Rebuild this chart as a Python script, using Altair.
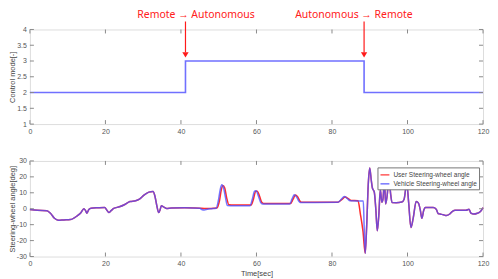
import altair as alt
import pandas as pd

# ---------------- data ----------------
mode_time = [0, 41.2, 88.5, 120]
mode_value = [2, 3, 2, 2]

veh_t = [0, 2, 4.5, 5.5, 6.5, 7.5, 9, 10.7, 12.5, 13.5, 14.3, 14.7, 15.1, 15.6, 16.2, 18, 19.8,
         20.4, 20.9, 21.5, 22.2, 23.7, 25, 26.5, 28, 29, 30.2, 31.5, 32.6, 33.1, 33.6, 34.1, 34.5,
         34.8, 35.5, 36.2, 37.5, 41, 45, 45.5, 46.2, 47, 48, 49.3, 49.9, 50.4, 50.8, 51.3, 51.8,
         52.3, 54, 58.3, 58.9, 59.5, 59.9, 60.5, 61.1, 61.6, 68.8, 69.4, 70, 70.6, 71.3, 71.6,
         81.5, 82.3, 83.3, 84, 84.8, 88.3, 88.5, 88.8, 89.2, 89.6, 90, 90.4, 90.7, 91.2, 91.6, 92,
         92.4, 92.8, 93.2, 93.5, 93.9, 94.2, 94.6, 95.1, 95.5, 95.9, 97, 98.5, 99.1, 99.8, 100.3,
         100.9, 101.5, 102.3, 102.9, 103.4, 103.8, 104.3, 104.7, 106.8, 107.6, 108.1, 108.6,
         109.5, 110.3, 111.2, 112, 112.6, 115.5, 116.3, 116.8, 117.5, 118.5, 119.3, 120]
veh_v = [-0.5, -1, -1.2, -3, -6, -7.2, -7, -6.8, -4.5, -2.5, 0, -1, -2.8, -0.5, 0.3, 0.6, 0.8,
         -1, -2.4, -1.2, 0.2, 1.2, 2.5, 4.5, 5, 6, 8.5, 10.4, 10.8, 8, 2, -2.4, -0.5,
         1.8, 1, 0.2, 0.5, 0.6, 0.3, -0.5, -0.8, -0.3, 0, 0.3, 5, 12, 15, 13, 7,
         2, 1.8, 1.8, 6, 11, 11.3, 8, 4, 3, 3, 6, 8.8, 7.5, 4.5, 3.9,
         4, 5.5, 7.6, 6.5, 5, 4.8, -10, -28, -10, 15, 25.5, 18, 13, 10.5, 0, -13.9,
         -4, 12, 4, 6, 18, 3, 8, 20, 10, 3.9, 3.8, 4.2, 6, 16, 4,
         -11.8, -6, 4.5, 3.5, -1, -6, -1, 0.8, 0.7, -0.3, -3, -3.3,
         -3.8, -4.3, -3.3, -1.5, -1, -1, -0.3, -2.8, -3.3, -2.8, -1.8, 0.7]

# user steering differs from vehicle between 45 s and 88.8 s
usr_mid_t = [45, 46.2, 48, 49.5, 50.2, 50.7, 51.1, 51.6, 52.1, 52.7, 54, 58.6, 59.2, 59.8, 60.2,
             60.8, 61.4, 61.9, 69, 69.7, 70.3, 70.9, 71.6, 72, 81.5, 82.5, 83.5, 84.3, 85,
             86.9, 87.5, 88.2, 88.8]
usr_mid_v = [0.3, 0.2, 0.2, 0.4, 5, 12, 14.6, 13, 7, 2.5, 2.3, 2.3, 6, 11, 11,
             8, 4, 3.3, 3.3, 6, 8.6, 7.5, 4.5, 4, 4.1, 5.5, 7.3, 6.3, 5.2,
             5, -3, -14, -28]

series_names = ["User Steering-wheel angle", "Vehicle Steering-wheel angle"]
series_colors = ["#ff2b2b", "#5050ff"]

x_ticks = [0, 20, 40, 60, 80, 100, 120]
mode_ticks = [1, 1.5, 2, 2.5, 3, 3.5, 4]
steer_ticks = [-30, -20, -10, 0, 10, 20, 30]

annot_text = ["Remote \u2192 Autonomous", "Autonomous \u2192 Remote"]
annot_x = [44, 85.8]
arrow_x = [41.2, 88.5]

# ---------------- frames ----------------
usr_t, usr_v = [], []
for t, v in zip(veh_t, veh_v):
    if t < 45:
        usr_t.append(t); usr_v.append(v)
usr_t += usr_mid_t; usr_v += usr_mid_v
for t, v in zip(veh_t, veh_v):
    if t > 88.8:
        usr_t.append(t); usr_v.append(v)

df_mode = pd.DataFrame({"t": mode_time, "v": mode_value})
df_usr = pd.DataFrame({"t": usr_t, "v": usr_v, "s": series_names[0]})
df_veh = pd.DataFrame({"t": veh_t, "v": veh_v, "s": series_names[1]})
df_xt = pd.DataFrame({"t": x_ticks})
df_mt = pd.DataFrame({"v": mode_ticks})
df_st = pd.DataFrame({"v": steer_ticks})
df_ann = pd.DataFrame({"t": annot_x, "label": annot_text})
df_arr = pd.DataFrame({"t": arrow_x})

W, H1, H2, SP = 455, 95, 96, 37
GRAY = "#8a8a8a"
TL = 4
FONT = "Liberation Sans"

xscale = alt.Scale(domain=[0, 120], nice=False, zero=False)


def xaxis(title=None):
    kw = dict(values=x_ticks, labelExpr="datum.value", tickSize=0, domain=False, grid=False,
              labelFontSize=7, labelColor="#555", labelPadding=3, labelFont=FONT,
              labelOverlap=False, labelFlush=False)
    if title:
        kw.update(title=title, titleFontSize=7.5, titleFontWeight="normal", titleColor="#444",
                  titleFont=FONT, titlePadding=3)
    else:
        kw.update(title=None)
    return alt.Axis(**kw)


def yaxis(vals, title, h):
    return alt.Axis(values=vals, labelExpr="datum.value", tickSize=0, domain=False, grid=False,
                    labelFontSize=7, labelColor="#555", labelPadding=3.5, labelFont=FONT,
                    labelOverlap=False, labelFlush=False,
                    title=title, titleFontSize=7.5, titleFontWeight="normal", titleColor="#444",
                    titleFont=FONT, titleX=-13, titleY=h / 2, titleAngle=270,
                    titleBaseline="bottom", titleAlign="center")


XA_TOP = xaxis()
XA_BOT = xaxis("Time[sec]")
YA_TOP = yaxis(mode_ticks, "Control mode[-]", H1)
YA_BOT = yaxis(steer_ticks, "Steering-wheel angle[deg]", H2)


def tick_layers(df_y, yscale, h, xa, ya):
    bx = alt.Chart(df_xt).mark_rule(color=GRAY, strokeWidth=1).encode(
        x=alt.X("t:Q", scale=xscale, axis=xa), y=alt.value(h - TL), y2=alt.value(h))
    tx = alt.Chart(df_xt).mark_rule(color=GRAY, strokeWidth=1).encode(
        x=alt.X("t:Q", scale=xscale, axis=xa), y=alt.value(0), y2=alt.value(TL))
    ly = alt.Chart(df_y).mark_rule(color=GRAY, strokeWidth=1).encode(
        y=alt.Y("v:Q", scale=yscale, axis=ya), x=alt.value(0), x2=alt.value(TL))
    ry = alt.Chart(df_y).mark_rule(color=GRAY, strokeWidth=1).encode(
        y=alt.Y("v:Q", scale=yscale, axis=ya), x=alt.value(W - TL), x2=alt.value(W))
    return [bx, tx, ly, ry]


# ---------------- top panel ----------------
mscale = alt.Scale(domain=[1, 4], nice=False, zero=False)
mode_line = alt.Chart(df_mode).mark_line(interpolate="step-after", color="#7070ff",
                                         strokeWidth=1.6).encode(
    x=alt.X("t:Q", scale=xscale, axis=XA_TOP),
    y=alt.Y("v:Q", scale=mscale, axis=YA_TOP))

ann_text = alt.Chart(df_ann).mark_text(color="#ff2020", fontSize=10.5, font="Noto Sans",
                                       baseline="alphabetic", align="center").encode(
    x=alt.X("t:Q", scale=xscale, axis=XA_TOP), y=alt.value(-12), text="label:N")
arr_shaft = alt.Chart(df_arr).mark_rule(color="#ff1a1a", strokeWidth=1.2).encode(
    x=alt.X("t:Q", scale=xscale, axis=XA_TOP), y=alt.value(-8), y2=alt.value(23))
arr_head = alt.Chart(df_arr).mark_point(shape="triangle-down", filled=True, size=40,
                                        color="#ff1a1a", opacity=1).encode(
    x=alt.X("t:Q", scale=xscale, axis=XA_TOP), y=alt.value(25.5))

top = alt.layer(mode_line, *tick_layers(df_mt, mscale, H1, XA_TOP, YA_TOP), ann_text,
                arr_shaft, arr_head).properties(width=W, height=H1)

# ---------------- bottom panel ----------------
sscale = alt.Scale(domain=[-30, 30], nice=False, zero=False)
cscale = alt.Scale(domain=series_names, range=series_colors)
legend = alt.Legend(title=None, orient="none", legendX=W - 106, legendY=H1 + SP + 6.5,
                    labelFontSize=6.5, labelFont=FONT, labelColor="#444", symbolType="stroke",
                    symbolSize=80, symbolStrokeWidth=1.5, padding=2, rowPadding=-2,
                    fillColor="white", strokeColor="#777", labelOffset=3, labelLimit=200)

usr_line = alt.Chart(df_usr).mark_line(interpolate="monotone", strokeWidth=1.5).encode(
    x=alt.X("t:Q", scale=xscale, axis=XA_BOT),
    y=alt.Y("v:Q", scale=sscale, axis=YA_BOT),
    color=alt.Color("s:N", scale=cscale, legend=legend))
veh_line = alt.Chart(df_veh).mark_line(interpolate="monotone", strokeWidth=1.5,
                                       opacity=0.78).encode(
    x=alt.X("t:Q", scale=xscale, axis=XA_BOT),
    y=alt.Y("v:Q", scale=sscale, axis=YA_BOT),
    color=alt.Color("s:N", scale=cscale, legend=legend))

bottom = alt.layer(usr_line, veh_line, *tick_layers(df_st, sscale, H2, XA_BOT, YA_BOT)
                   ).properties(width=W, height=H2)

chart = alt.vconcat(top, bottom, spacing=SP, bounds="flush").properties(
    padding={"left": 0, "top": 0, "right": 0, "bottom": 0},
).configure_view(stroke=GRAY, strokeWidth=1).configure(background="white")

chart.save("out.html", embed_options={"renderer": "svg", "actions": False})
